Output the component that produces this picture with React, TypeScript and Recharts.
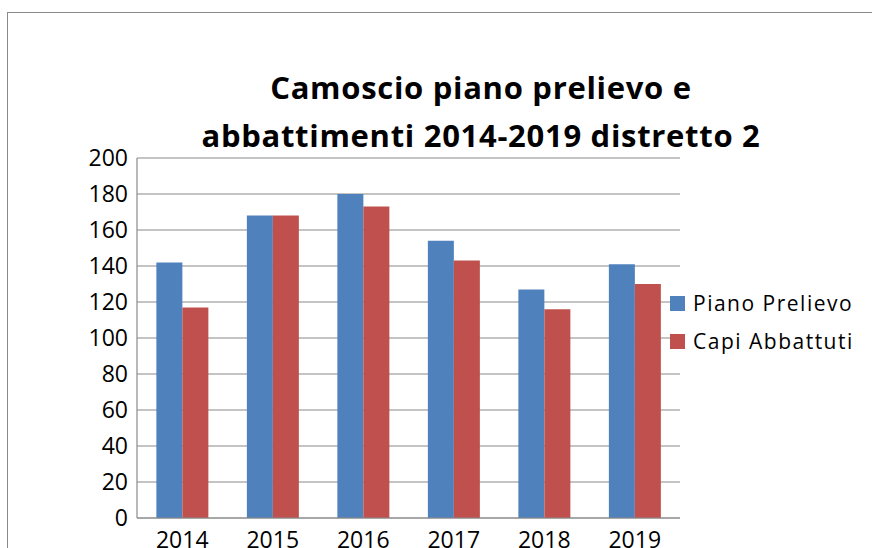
import React from "react";
import { BarChart, Bar, XAxis, YAxis, CartesianGrid } from "recharts";

const years = ["2014", "2015", "2016", "2017", "2018", "2019"];
const pianoPrelievo = [142, 168, 180, 154, 127, 141];
const capiAbbattuti = [117, 168, 173, 143, 116, 130];
const yTicks = [0, 20, 40, 60, 80, 100, 120, 140, 160, 180, 200];
const titleLines = ["Camoscio piano prelievo e", "abbattimenti 2014-2019 distretto 2"];
const seriesNames = ["Piano Prelievo", "Capi Abbattuti"];
const seriesColors = ["#4F81BD", "#C0504D"];

const data = years.map((y, i) => ({
  year: y,
  piano: pianoPrelievo[i],
  capi: capiAbbattuti[i],
}));

const FONT = "'Open Sans', sans-serif";

export default function App() {
  return (
    <div
      style={{
        position: "absolute",
        left: 0,
        top: 0,
        width: 872,
        height: 548,
        overflow: "hidden",
        background: "#fff",
      }}
    >
      <div
        style={{
          position: "absolute",
          left: 7,
          top: 12,
          width: 900,
          height: 600,
          border: "1.5px solid #8a8a8a",
          boxSizing: "border-box",
        }}
      />
      <div
        style={{
          position: "absolute",
          left: 131,
          width: 700,
          top: 63,
          textAlign: "center",
          fontFamily: FONT,
          fontWeight: 700,
          fontSize: 31,
          letterSpacing: 0.7,
          lineHeight: "48px",
          color: "#000",
          fontVariantLigatures: "none",
        }}
      >
        {titleLines.map((t, i) => (
          <div key={i}>{t}</div>
        ))}
      </div>
      <div style={{ position: "absolute", left: 0, top: 0 }}>
        <BarChart
          width={872}
          height={580}
          data={data}
          margin={{ top: 158, right: 192, bottom: 22, left: 0 }}
          barCategoryGap="21.4%"
          barGap={0}
        >
          <CartesianGrid vertical={false} stroke="#8a8a8a" strokeWidth={1.2} />
          <XAxis
            dataKey="year"
            height={40}
            tickSize={0}
            tickMargin={14}
            axisLine={{ stroke: "#8a8a8a", strokeWidth: 1.2 }}
            tick={{ fill: "#000", fontSize: 23, fontFamily: FONT }}
          />
          <YAxis
            width={137}
            domain={[0, 200]}
            ticks={yTicks}
            interval={0}
            tickSize={0}
            tickMargin={9}
            axisLine={{ stroke: "#8a8a8a", strokeWidth: 1.2 }}
            tick={{ fill: "#000", fontSize: 23, fontFamily: FONT }}
          />
          <Bar
            dataKey="piano"
            name={seriesNames[0]}
            fill={seriesColors[0]}
            isAnimationActive={false}
          />
          <Bar
            dataKey="capi"
            name={seriesNames[1]}
            fill={seriesColors[1]}
            isAnimationActive={false}
          />
        </BarChart>
      </div>
      <div
        style={{
          position: "absolute",
          left: 670,
          top: 284,
          fontFamily: FONT,
        }}
      >
        {seriesNames.map((name, i) => (
          <div
            key={i}
            style={{ display: "flex", alignItems: "center", height: 38 }}
          >
            <div
              style={{
                width: 15,
                height: 15,
                background: seriesColors[i],
                marginRight: 8,
                flexShrink: 0,
              }}
            />
            <span
              style={{
                fontSize: 21,
                color: "#000",
                letterSpacing: 1.5,
                whiteSpace: "nowrap",
                lineHeight: "21px",
              }}
            >
              {name}
            </span>
          </div>
        ))}
      </div>
    </div>
  );
}
